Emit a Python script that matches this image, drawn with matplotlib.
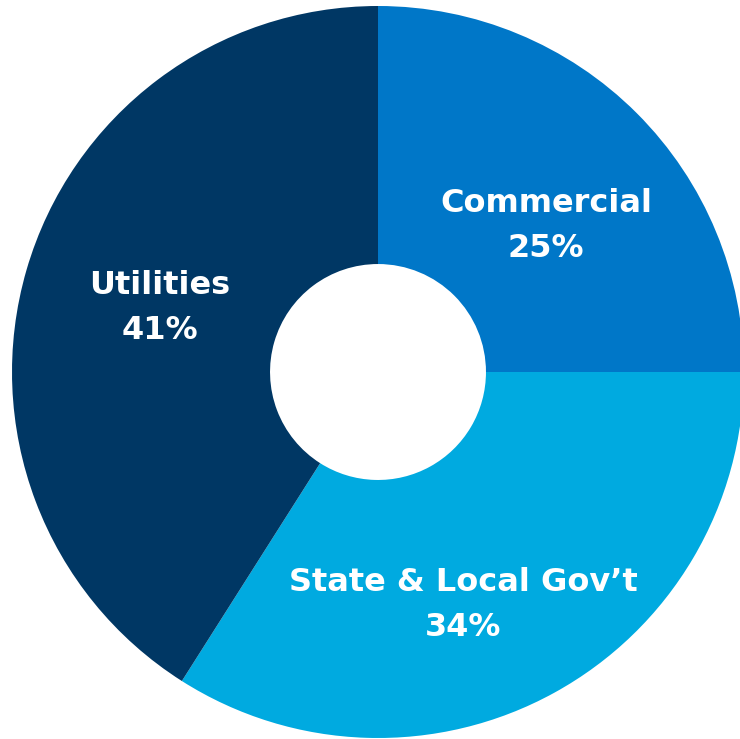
import matplotlib
matplotlib.use("Agg")
from matplotlib import pyplot as plt

# slice data (clockwise from 12 o'clock)
sectors = ["Commercial", "State & Local Gov\u2019t", "Utilities"]
shares = [25, 34, 41]
colors = ["#0077C8", "#00AAE0", "#003764"]

# label anchor positions in pixel coords (x, y from top)
label_pos = [(546, 226), (463, 605), (160, 308)]

W, H = 740, 739
fig = plt.figure(figsize=(W / 100, H / 100), dpi=100)
ax = fig.add_axes([0, 0, 1, 1])

cx, cy, r = 378, H - 372, 366
ax.pie(shares, colors=colors, startangle=90, counterclock=False,
       radius=r, center=(cx, cy), frame=True,
       wedgeprops=dict(width=r * 0.705, linewidth=0))
ax.set_xlim(0, W)
ax.set_ylim(0, H)
ax.set_aspect("equal")
ax.axis("off")

for name, val, (x, y) in zip(sectors, shares, label_pos):
    ax.text(x, H - y, f"{name}\n{val}%", ha="center", va="center",
            color="white", fontsize=23, fontweight="bold",
            family="DejaVu Sans", linespacing=1.55)

fig.savefig("out.png", dpi=100, facecolor="white")
